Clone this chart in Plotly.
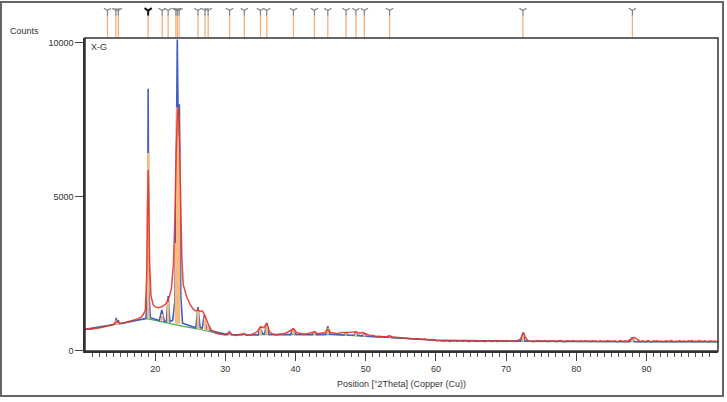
import plotly.graph_objects as go

# ---------------- data ----------------
# observed pattern (red), 10-60 degrees
obs_x_a = [10.0, 10.5, 11.0, 11.5, 12.0, 12.5, 13.0, 13.5, 14.0, 14.5, 15.0, 15.5, 16.0, 16.5, 17.0, 17.5, 18.0,
           18.3, 18.6, 18.8, 18.9, 19.0, 19.1, 19.2, 19.4, 19.7, 20.0, 20.5, 21.0, 21.5, 22.0, 22.3, 22.6, 22.8,
           23.0, 23.2, 23.4, 23.6, 23.8, 24.0, 24.5, 25.0, 25.5, 25.8, 26.1, 26.4, 26.7, 27.0, 27.3, 27.6, 28.0,
           28.5, 29.0, 29.5, 30.0, 30.5, 31.0, 31.5, 32.0, 32.5, 33.0, 33.5, 34.0, 34.5, 35.0, 35.5, 35.9, 36.3,
           36.8, 37.3, 37.8, 38.3, 38.8, 39.3, 39.7, 40.2, 40.7, 41.2, 41.7, 42.2, 42.7, 43.2, 43.7, 44.2, 44.6,
           45.0, 45.5, 46.0, 46.5, 47.0, 47.5, 48.0, 48.6, 49.1, 49.6, 50.0, 50.5, 51.0, 51.5, 52.0, 52.5, 53.0,
           53.4, 53.9, 54.4, 55.0, 55.5, 56.0, 56.5, 57.0, 57.5, 58.0, 58.5, 59.0, 59.5]
obs_y_a = [690, 720, 705, 740, 745, 770, 790, 820, 850, 960, 900, 910, 940, 960, 990, 1040, 1100,
           1180, 1330, 2500, 4500, 5870, 4700, 2900, 1800, 1500, 1430, 1400, 1440, 1520, 1750, 2000, 2800, 4200,
           6500, 7900, 7500, 4500, 3000, 2150, 1750, 1500, 1330, 1300, 1330, 1280, 1300, 1200, 1000, 850, 680,
           600, 560, 540, 520, 600, 530, 500, 520, 560, 510, 520, 560, 620, 780, 760, 900, 620,
           540, 520, 550, 560, 600, 680, 720, 590, 560, 540, 560, 580, 620, 560, 580, 600, 700,
           600, 580, 560, 600, 600, 590, 610, 620, 580, 600, 560, 510, 500, 470, 480, 460, 470,
           490, 450, 440, 420, 430, 400, 410, 390, 400, 370, 390, 360, 370]
# observed pattern (red), 60-100 degrees, sampled every 0.25 degree
obs_y_b = [340, 325, 345, 318, 330, 312, 336, 322, 305, 328, 316, 340, 310, 324, 334, 306, 320, 338, 314, 300,
           326, 342, 318, 308, 330,
           312, 334, 320, 302, 328, 340, 316, 306, 324, 338, 300, 318, 332, 310, 326, 304, 336, 320, 312, 328,
           306, 322, 340, 380,
           470, 590, 460, 360,
           320, 314, 330, 302, 326, 340, 310, 322, 306, 336, 318, 300, 328, 312, 334, 320, 304, 326, 342, 310,
           316, 300, 332, 322, 308, 338, 314, 326, 302, 330, 318, 306, 336, 312, 324, 300, 340, 316, 328, 304,
           320, 334, 310, 322, 302, 338, 318, 326, 306, 330, 312, 300, 336, 320, 310, 328, 318, 340,
           370, 410, 440, 410, 360, 325,
           310, 328, 300, 322, 336, 312, 304, 330, 318, 340, 306, 324, 314, 300, 332, 320, 308, 338, 316, 302,
           326, 312, 334, 300, 322, 318, 306, 330, 314, 342, 302, 324, 310, 336, 320, 300, 328, 316, 304, 332,
           318, 310, 326, 300, 322]
obs_x_b = [60.0 + 0.25 * i for i in range(len(obs_y_b))]
obs_x = obs_x_a + obs_x_b
obs_y = obs_y_a + obs_y_b

# calculated profile (blue)
calc_x = [10.0, 14.0, 14.3, 14.45, 14.6, 14.75, 14.9, 15.2, 18.0, 18.7, 18.9, 19.0, 19.1, 19.3, 20.6, 20.95,
          21.3, 21.6, 21.85, 22.1, 22.5, 22.8, 23.0, 23.15, 23.3, 23.45, 23.65, 23.9, 25.8, 26.1, 26.4, 26.7,
          27.0, 27.3, 27.45, 27.6, 27.8, 30.3, 30.6, 30.9, 32.4, 32.7, 33.0, 34.7, 34.95, 35.3, 35.6, 35.9,
          36.2, 39.3, 39.65, 40.0, 42.4, 42.7, 43.0, 44.3, 44.6, 44.9, 46.9, 47.2, 47.5, 48.3, 48.6, 48.9,
          49.5, 49.8, 50.1, 53.1, 53.4, 53.7, 60.0, 72.1, 72.4, 72.7, 87.6, 87.95, 88.3, 100.2]
calc_y = [700, 850, 870, 1070, 880, 1000, 880, 890, 1010, 1060, 2000, 8500, 2000, 1080, 990, 1330,
          960, 960, 1780, 950, 1000, 1600, 6000, 10100, 7000, 8000, 1800, 900, 750, 1420, 760, 740,
          1160, 720, 700, 840, 660, 530, 620, 530, 525, 570, 525, 520, 780, 560, 560, 910,
          540, 530, 730, 540, 530, 620, 530, 540, 800, 540, 520, 590, 520, 510, 600, 510,
          490, 560, 480, 450, 480, 440, 350, 320, 600, 320, 300, 440, 300, 300]

# background (green)
bg_x = [10, 12, 14, 16, 18, 18.8, 20, 22, 24, 26, 28, 29, 30, 35, 40, 45, 50, 53, 56, 60, 65, 70, 80, 90, 100.2]
bg_y = [700, 760, 850, 930, 1010, 1050, 990, 890, 800, 720, 610, 560, 530, 520, 530, 540, 470, 440, 400, 350,
        330, 320, 305, 300, 300]

# reference pattern sticks
ref_pos = [13.2, 14.4, 14.75, 19.0, 21.0, 21.85, 22.95, 23.15, 23.4, 26.1, 27.1, 27.55, 30.6, 32.7, 35.0,
           35.9, 39.7, 42.7, 44.6, 47.2, 48.6, 49.8, 53.4, 72.4, 88.0]
ref_base = [820, 860, 870, 1050, 980, 940, 900, 890, 880, 720, 690, 660, 530, 525, 520,
            520, 530, 535, 540, 515, 490, 475, 440, 320, 300]
ref_top = [860, 1000, 950, 6420, 1200, 1600, 3500, 7900, 6400, 1300, 1100, 820, 600, 570, 750,
           880, 700, 600, 750, 570, 580, 540, 470, 560, 420]

y_ticks = [0, 5000, 10000]
y_tick_text = ["0", "5000", "10000"]
x_ticks = [20, 30, 40, 50, 60, 70, 80, 90]
x_minor = [v for v in range(11, 100) if v % 10 != 0]

# ---------------- figure ----------------
fig = go.Figure()

fig.add_trace(go.Scatter(x=bg_x, y=bg_y, mode="lines",
                         line=dict(color="#4caf50", width=1.2), showlegend=False))
fig.add_trace(go.Scatter(x=calc_x, y=calc_y, mode="lines",
                         line=dict(color="#3f5fc4", width=1.6), showlegend=False))

sx, sy = [], []
for p, b, t in zip(ref_pos, ref_base, ref_top):
    sx += [p, p, None]
    sy += [b, t, None]
fig.add_trace(go.Scatter(x=sx, y=sy, mode="lines",
                         line=dict(color="#f7b97e", width=2.5), showlegend=False))

fig.add_trace(go.Scatter(x=obs_x, y=obs_y, mode="lines",
                         line=dict(color="#e8352a", width=1.5), opacity=0.9, showlegend=False))

# top reference markers
tx, ty = [], []
for p in ref_pos:
    tx += [p, p, None]
    ty += [0, 0.68, None]
fig.add_trace(go.Scatter(x=tx, y=ty, mode="lines", yaxis="y2",
                         line=dict(color="#f5b07a", width=1.3), showlegend=False))
fig.add_trace(go.Scatter(x=[p for p in ref_pos if p != 19.0], y=[0.8] * (len(ref_pos) - 1),
                         mode="markers", yaxis="y2",
                         marker=dict(symbol="y-down", size=6, line=dict(color="#808080", width=1.2)),
                         showlegend=False))
fig.add_trace(go.Scatter(x=[19.0], y=[0.8], mode="markers", yaxis="y2",
                         marker=dict(symbol="y-down", size=6, line=dict(color="#111111", width=2)),
                         showlegend=False))

font = dict(family="Liberation Sans, Arial, sans-serif", size=9, color="#333333")

fig.update_layout(
    width=727, height=402,
    margin=dict(l=85, r=9, t=4, b=51),
    paper_bgcolor="white", plot_bgcolor="white",
    font=font,
    xaxis=dict(range=[10, 100.2], tickmode="array", tickvals=x_ticks,
               ticks="outside", ticklen=8, tickcolor="#444", tickwidth=1,
               minor=dict(tickmode="array", tickvals=x_minor, ticks="outside", ticklen=4,
                          tickcolor="#555", tickwidth=1),
               showgrid=False, zeroline=False, showline=True, linecolor="#333", linewidth=1.5,
               tickfont=font,
               title=dict(text="Position [°2Theta] (Copper (Cu))", font=font, standoff=8)),
    yaxis=dict(domain=[0, 0.902], range=[0, 10146], tickmode="array", tickvals=y_ticks,
               ticktext=y_tick_text,
               ticks="outside", ticklen=8, tickcolor="#444", tickwidth=1,
               showgrid=False, zeroline=False, showline=True, linecolor="#333", linewidth=1.5,
               tickfont=font),
    yaxis2=dict(domain=[0.905, 1.0], range=[0, 1], anchor="x", visible=False),
    shapes=[
        dict(type="rect", xref="x domain", yref="y domain", x0=0, x1=1, y0=0, y1=1,
             line=dict(color="#333", width=1.5)),
        dict(type="rect", xref="paper", yref="paper", x0=-0.1327, x1=1.0079, y0=-0.1297, y1=1.0058,
             line=dict(color="#666", width=2)),
    ],
    annotations=[
        dict(text="Counts", xref="paper", yref="paper", x=-0.1216, y=0.922,
             xanchor="left", yanchor="middle", showarrow=False, font=font),
        dict(text="X-G", xref="x domain", yref="y domain", x=0.006, y=0.995,
             xanchor="left", yanchor="top", showarrow=False, font=font),
    ],
)

fig.write_html("out.html")
